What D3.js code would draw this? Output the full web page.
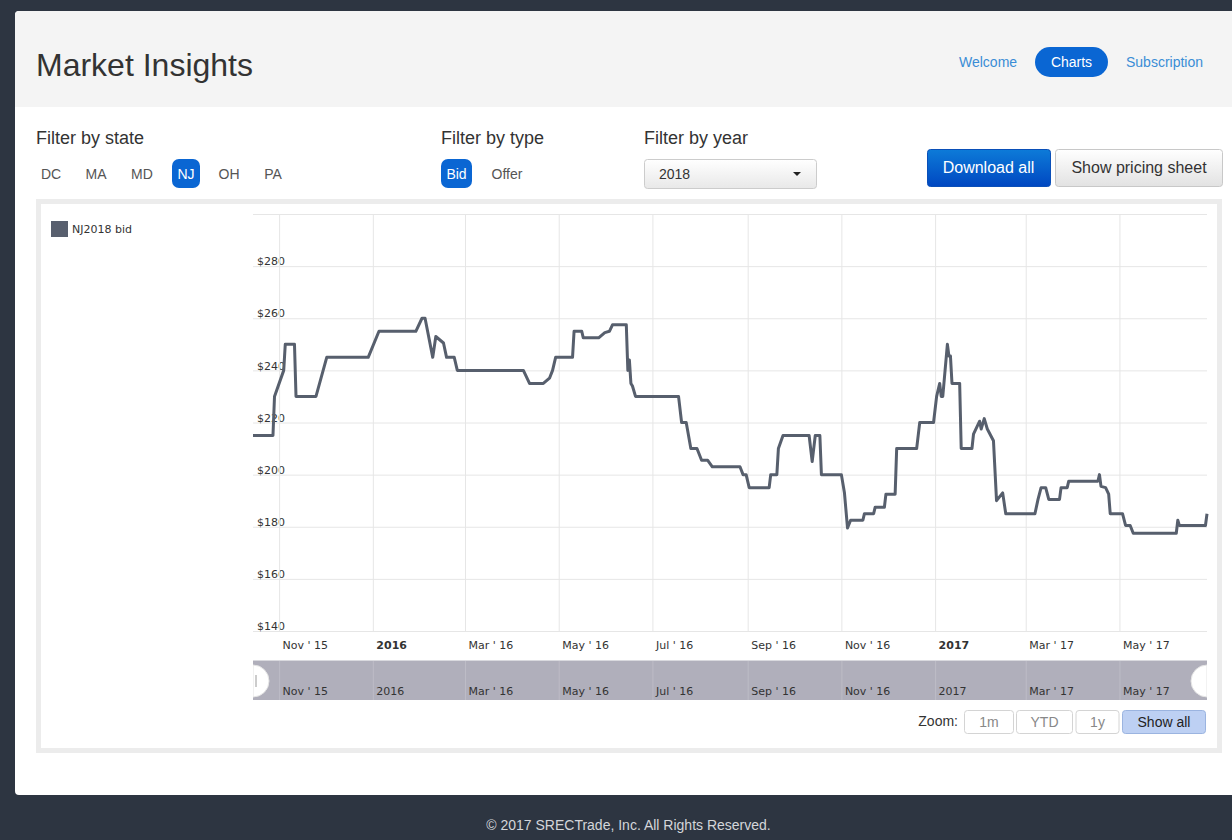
<!DOCTYPE html>
<html>
<head>
<meta charset="utf-8">
<script src="https://cdn.jsdelivr.net/npm/d3@7"></script>
<style>
  body { margin: 0; background: #2d3541; }
  svg { display: block; }
  .ui { font-family: "Liberation Sans", Arial, sans-serif; }
  .hc { font-family: "DejaVu Sans", Verdana, sans-serif; font-size: 11px; fill: #333; }
</style>
</head>
<body>
<svg id="vis" width="1232" height="840"></svg>
<script>
// Datos del gráfico
const ESTADOS = ["DC", "MA", "MD", "NJ", "OH", "PA"];
const TIPOS = ["Bid", "Offer"];
const MENU = ["Welcome", "Charts", "Subscription"];
const BOTONES_ZOOM = ["1m", "YTD", "1y", "Show all"];
const SERIE = "NJ2018 bid";
const Y_TICKS = [140, 160, 180, 200, 220, 240, 260, 280, 300];
const X_TICKS = ["2015-11-01", "2016-01-01", "2016-03-01", "2016-05-01", "2016-07-01",
  "2016-09-01", "2016-11-01", "2017-01-01", "2017-03-01", "2017-05-01"];
const X_LABELS = ["Nov ' 15", "2016", "Mar ' 16", "May ' 16", "Jul ' 16",
  "Sep ' 16", "Nov ' 16", "2017", "Mar ' 17", "May ' 17"];

const FECHAS = [
  "2015-10-15", "2015-10-28", "2015-10-29", "2015-11-04", "2015-11-05", "2015-11-11",
  "2015-11-12", "2015-11-25", "2015-12-02", "2015-12-29", "2016-01-05", "2016-01-29",
  "2016-02-02", "2016-02-04", "2016-02-09", "2016-02-11", "2016-02-16", "2016-02-18",
  "2016-02-23", "2016-02-25", "2016-04-08", "2016-04-12", "2016-04-21", "2016-04-25",
  "2016-04-27", "2016-04-29", "2016-05-10", "2016-05-11", "2016-05-16", "2016-05-17",
  "2016-05-27", "2016-05-31", "2016-06-03", "2016-06-05", "2016-06-14", "2016-06-15",
  "2016-06-16", "2016-06-17", "2016-06-18", "2016-06-20", "2016-07-18", "2016-07-20",
  "2016-07-23", "2016-07-26", "2016-07-30", "2016-08-02", "2016-08-06", "2016-08-09",
  "2016-08-27", "2016-08-29", "2016-08-31", "2016-09-02", "2016-09-15", "2016-09-16",
  "2016-09-20", "2016-09-21", "2016-09-24", "2016-10-11", "2016-10-13", "2016-10-15",
  "2016-10-18", "2016-10-19", "2016-11-01", "2016-11-03", "2016-11-05", "2016-11-07",
  "2016-11-15", "2016-11-16", "2016-11-22", "2016-11-23", "2016-11-29", "2016-11-30",
  "2016-12-06", "2016-12-07", "2016-12-20", "2016-12-22", "2016-12-31", "2017-01-02",
  "2017-01-04", "2017-01-05", "2017-01-06", "2017-01-09", "2017-01-10", "2017-01-11",
  "2017-01-12", "2017-01-17", "2017-01-18", "2017-01-25", "2017-01-26", "2017-01-30",
  "2017-01-31", "2017-02-02", "2017-02-04", "2017-02-08", "2017-02-10", "2017-02-14",
  "2017-02-16", "2017-03-07", "2017-03-09", "2017-03-11", "2017-03-14", "2017-03-16",
  "2017-03-23", "2017-03-24", "2017-03-28", "2017-03-29", "2017-04-17", "2017-04-18",
  "2017-04-19", "2017-04-22", "2017-04-24", "2017-04-25", "2017-05-03", "2017-05-05",
  "2017-05-08", "2017-05-10", "2017-06-07", "2017-06-08", "2017-06-09", "2017-06-26",
  "2017-06-27"
];
const PRECIOS = [
  215, 215, 230, 240, 250, 250,
  230, 230, 245, 245, 255, 255,
  260, 260, 245, 253, 250.5, 245,
  245, 240, 240, 235, 235, 237,
  240, 245, 245, 255, 255, 252.5,
  252.5, 254.5, 255, 257.5, 257.5, 240,
  244, 235, 234, 230, 230, 220,
  220, 210, 210, 205.5, 205.5, 203,
  203, 200, 200, 195, 195, 200,
  200, 210, 215, 215, 205, 215,
  215, 200, 200, 193, 179.5, 182.5,
  182.5, 185, 185, 187.5, 187.5, 192.5,
  192.5, 210, 210, 220, 220, 230,
  235, 230, 230, 250, 245.5, 245.5,
  235, 235, 210, 210, 215.5, 220.5,
  217.5, 221.5, 217.5, 213, 190, 193,
  185, 185, 190.5, 195, 195, 190.5,
  190.5, 195, 195, 197.5, 197.5, 200,
  195.5, 195, 192.5, 185, 185, 180.5,
  180.5, 177.5, 177.5, 182.5, 180.5, 180.5,
  185
];

const SVG = d3.select("#vis");
const parseFecha = d3.utcParse("%Y-%m-%d");
const DATOS = FECHAS.map((f, i) => ({ fecha: parseFecha(f), precio: PRECIOS[i] }));

// Gradientes para los botones
const defs = SVG.append("defs");
function gradiente(id, arriba, abajo) {
  const g = defs.append("linearGradient").attr("id", id)
    .attr("x1", 0).attr("y1", 0).attr("x2", 0).attr("y2", 1);
  g.append("stop").attr("offset", "0%").attr("stop-color", arriba);
  g.append("stop").attr("offset", "100%").attr("stop-color", abajo);
}
gradiente("azul", "#0d7bd8", "#0047c1");
gradiente("gris", "#ffffff", "#e2e2e2");
gradiente("select", "#ffffff", "#e8e8e8");

// Fondo de la página y tarjeta blanca
SVG.append("rect").attr("width", 1232).attr("height", 840).attr("fill", "#2d3541");
SVG.append("rect").attr("x", 15).attr("y", 11).attr("width", 1240).attr("height", 784)
  .attr("rx", 4).attr("fill", "#fff");
SVG.append("rect").attr("x", 15).attr("y", 11).attr("width", 1240).attr("height", 96)
  .attr("rx", 4).attr("fill", "#f4f4f4");
SVG.append("rect").attr("x", 15).attr("y", 60).attr("width", 1240).attr("height", 47)
  .attr("fill", "#f4f4f4");

function texto(x, y, str, size, color, anchor, weight) {
  return SVG.append("text").attr("class", "ui")
    .attr("x", x).attr("y", y)
    .attr("font-size", size)
    .attr("fill", color)
    .attr("text-anchor", anchor || "start")
    .attr("font-weight", weight || "normal")
    .text(str);
}

// Encabezado
texto(36, 76, "Market Insights", 32, "#333");
const MENU_X = [959, 1071.5, 1126];
MENU.forEach((m, i) => {
  if (m === "Charts") {
    SVG.append("rect").attr("x", 1035).attr("y", 47).attr("width", 73).attr("height", 30)
      .attr("rx", 15).attr("fill", "#0a66d3");
    texto(MENU_X[i], 67, m, 14, "#fff", "middle");
  } else {
    texto(MENU_X[i], 67, m, 14, "#3a8dd6");
  }
});

// Filtros
texto(36, 144, "Filter by state", 18, "#333");
texto(441, 144, "Filter by type", 18, "#333");
texto(644, 144, "Filter by year", 18, "#333");

const ESTADOS_X = [51, 96, 142, 186, 229, 273];
ESTADOS.forEach((e, i) => {
  if (e === "NJ") {
    SVG.append("rect").attr("x", 172).attr("y", 159).attr("width", 28).attr("height", 29)
      .attr("rx", 7).attr("fill", "#0a66d3");
    texto(ESTADOS_X[i], 179, e, 14, "#fff", "middle");
  } else {
    texto(ESTADOS_X[i], 179, e, 14, "#555", "middle");
  }
});

const TIPOS_X = [456.5, 507];
TIPOS.forEach((t, i) => {
  if (t === "Bid") {
    SVG.append("rect").attr("x", 441).attr("y", 159).attr("width", 31).attr("height", 29)
      .attr("rx", 7).attr("fill", "#0a66d3");
    texto(TIPOS_X[i], 179, t, 14, "#fff", "middle");
  } else {
    texto(TIPOS_X[i], 179, t, 14, "#555", "middle");
  }
});

// Selector de año
SVG.append("rect").attr("x", 644.5).attr("y", 159.5).attr("width", 172).attr("height", 29)
  .attr("rx", 3).attr("fill", "url(#select)").attr("stroke", "#ccc");
texto(659, 179, "2018", 14, "#333");
SVG.append("path").attr("d", "M793,172 L801,172 L797,176 Z").attr("fill", "#222");

// Botones de la derecha
SVG.append("rect").attr("x", 927.5).attr("y", 149.5).attr("width", 123).attr("height", 37)
  .attr("rx", 3).attr("fill", "url(#azul)").attr("stroke", "#0a4fb8");
texto(988.5, 173, "Download all", 16, "#fff", "middle");
SVG.append("rect").attr("x", 1055.5).attr("y", 149.5).attr("width", 167).attr("height", 37)
  .attr("rx", 3).attr("fill", "url(#gris)").attr("stroke", "#c8c8c8");
texto(1139, 173, "Show pricing sheet", 16, "#333", "middle");

// Contenedor del gráfico
SVG.append("rect").attr("x", 38.5).attr("y", 201.5).attr("width", 1181).attr("height", 549)
  .attr("fill", "#fff").attr("stroke", "#ececec").attr("stroke-width", 5);

// Escalas
const x = d3.scaleUtc()
  .domain([parseFecha("2015-10-15"), parseFecha("2017-06-27")])
  .range([253, 1207]);
const y = d3.scaleLinear().domain([140, 300]).range([631, 214]);
const ticksX = X_TICKS.map(parseFecha);

// Eje Y: líneas horizontales con la etiqueta encima
const ejeY = SVG.append("g").attr("class", "hc")
  .attr("transform", "translate(253,0)")
  .call(d3.axisRight(y).tickValues(Y_TICKS).tickSize(954)
    .tickFormat(d => d === 300 ? "" : "$" + d));
ejeY.select(".domain").remove();
ejeY.selectAll("line").attr("stroke", "#e6e6e6");
ejeY.selectAll("text").attr("x", 4).attr("dy", "-0.12em")
  .attr("fill", "#333").attr("font-family", "DejaVu Sans, Verdana, sans-serif").attr("font-size", 11);

// Eje X: líneas verticales y etiquetas a la derecha de cada línea
const ejeX = SVG.append("g").attr("class", "hc")
  .attr("transform", "translate(0,631)")
  .call(d3.axisBottom(x).tickValues(ticksX).tickSize(-417)
    .tickFormat((d, i) => X_LABELS[i]));
ejeX.select(".domain").remove();
ejeX.selectAll("line").attr("stroke", "#e6e6e6");
ejeX.selectAll("text").attr("x", 3).attr("y", 18).attr("dy", 0)
  .attr("text-anchor", "start").attr("fill", "#333")
  .attr("font-family", "DejaVu Sans, Verdana, sans-serif").attr("font-size", 11)
  .attr("font-weight", (d, i) => X_LABELS[i].length === 4 ? "bold" : "normal");

// Línea de precios
const linea = d3.line().x(d => x(d.fecha)).y(d => y(d.precio));
SVG.append("path").datum(DATOS)
  .attr("d", linea)
  .attr("fill", "none")
  .attr("stroke", "#575f6d")
  .attr("stroke-width", 3)
  .attr("stroke-linejoin", "round");

// Leyenda
SVG.append("rect").attr("x", 51).attr("y", 221).attr("width", 17).attr("height", 16)
  .attr("fill", "#585f6e");
SVG.append("text").attr("class", "hc").attr("x", 72).attr("y", 233).text(SERIE);

// Navegador
SVG.append("rect").attr("x", 253).attr("y", 661).attr("width", 954).attr("height", 39)
  .attr("fill", "#b0afbb");
SVG.append("line").attr("x1", 253).attr("x2", 1207).attr("y1", 660.5).attr("y2", 660.5)
  .attr("stroke", "#d9d9de");
const nav = SVG.append("g").attr("class", "hc")
  .attr("transform", "translate(0,700)")
  .call(d3.axisBottom(x).tickValues(ticksX).tickSize(-39)
    .tickFormat((d, i) => X_LABELS[i]));
nav.select(".domain").remove();
nav.selectAll("line").attr("stroke", "#bdbcc6");
nav.selectAll("text").attr("x", 3).attr("y", -5).attr("dy", 0)
  .attr("text-anchor", "start").attr("fill", "#333")
  .attr("font-family", "DejaVu Sans, Verdana, sans-serif").attr("font-size", 11);

// Manijas del navegador: medio círculo hacia dentro del navegador
SVG.append("path")
  .attr("d", "M253,665 A16,16 0 0 1 253,697 Z")
  .attr("fill", "#fff").attr("stroke", "#e4e4e4");
SVG.append("path")
  .attr("d", "M1207,665 A16,16 0 0 0 1207,697 Z")
  .attr("fill", "#fff").attr("stroke", "#e4e4e4");
SVG.append("rect").attr("x", 250).attr("y", 664).attr("width", 3).attr("height", 34).attr("fill", "#fff");
SVG.append("rect").attr("x", 1207).attr("y", 664).attr("width", 3).attr("height", 34).attr("fill", "#fff");
SVG.append("line").attr("x1", 256).attr("x2", 256).attr("y1", 675).attr("y2", 687)
  .attr("stroke", "#bbb").attr("stroke-width", 1.5);

// Botones de zoom
texto(958, 726, "Zoom:", 14, "#333", "end");
const ZOOM_X = [964.5, 1016.5, 1076, 1122.5];
const ZOOM_W = [49, 56, 43, 83];
BOTONES_ZOOM.forEach((b, i) => {
  const activo = b === "Show all";
  SVG.append("rect").attr("x", ZOOM_X[i]).attr("y", 710.5)
    .attr("width", ZOOM_W[i]).attr("height", 23).attr("rx", 3)
    .attr("fill", activo ? "#bdd0f3" : "#fff")
    .attr("stroke", activo ? "#9bb4e0" : "#d4d4d4");
  texto(ZOOM_X[i] + ZOOM_W[i] / 2, 727, b, 14, activo ? "#222" : "#888", "middle");
});

// Pie de página
texto(628.5, 830, "\u00a9 2017 SRECTrade, Inc. All Rights Reserved.", 14, "#d4d6da", "middle");
</script>
</body>
</html>
